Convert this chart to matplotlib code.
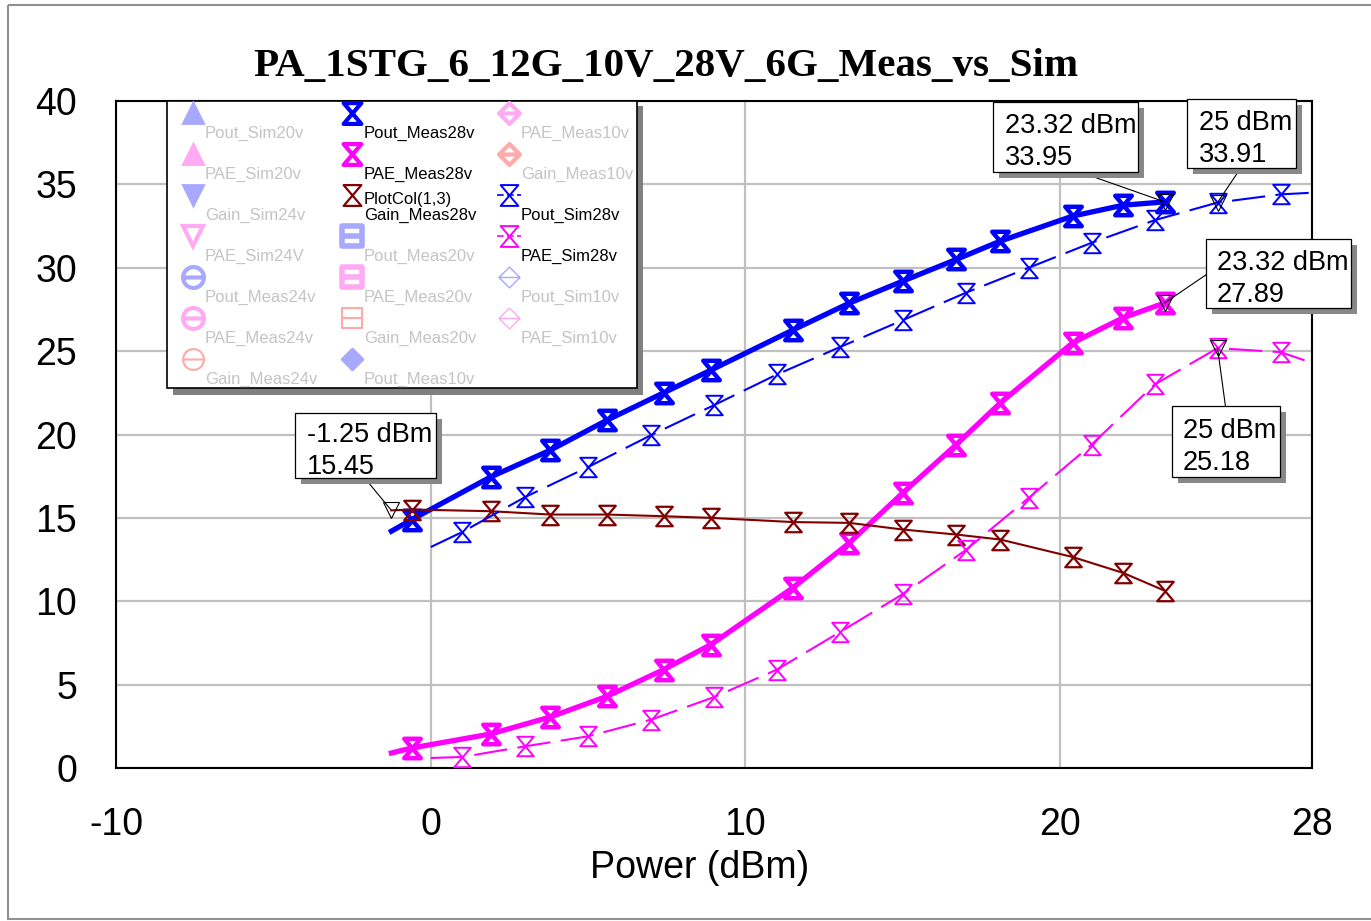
import matplotlib
matplotlib.use("Agg")
import matplotlib.pyplot as plt
import matplotlib.transforms as mtransforms
from matplotlib import font_manager
from matplotlib.patches import Rectangle
from matplotlib.path import Path

plt.rcParams["axes.unicode_minus"] = False

installed = {f.name for f in font_manager.fontManager.ttflist}
SANS = "Liberation Sans"
NARROW = "Liberation Sans Narrow" if "Liberation Sans Narrow" in installed else SANS
SERIF = "Liberation Serif"

TITLE = "PA_1STG_6_12G_10V_28V_6G_Meas_vs_Sim"
X_LABEL = "Power (dBm)"
X_TICKS = [-10, 0, 10, 20, 28]
Y_TICKS = [0, 5, 10, 15, 20, 25, 30, 35, 40]

# measured sweep (first point has no marker)
meas_x = [-1.25, -0.6, 1.9, 3.8, 5.6, 7.4, 8.9, 11.5, 13.3, 15.0, 16.7, 18.1, 20.4, 22.0, 23.32]
pout_meas28 = [14.2, 14.9, 17.45, 19.06, 20.86, 22.5, 23.86, 26.26, 27.88, 29.2, 30.5, 31.6, 33.1, 33.75, 33.95]
pae_meas28 = [0.9, 1.2, 2.04, 3.06, 4.3, 5.9, 7.4, 10.8, 13.5, 16.5, 19.4, 21.9, 25.5, 27.0, 27.89]
gain_meas28 = [15.45, 15.5, 15.4, 15.2, 15.2, 15.1, 15.0, 14.75, 14.7, 14.3, 14.0, 13.7, 12.65, 11.7, 10.63]

# simulated sweep (end points have no marker)
sim_x = [0, 1, 3, 5, 7, 9, 11, 13, 15, 17, 19, 21, 23, 25, 27, 28]
pout_sim28 = [13.25, 14.15, 16.25, 18.05, 19.96, 21.76, 23.6, 25.24, 26.86, 28.5, 30.0, 31.5, 32.85, 33.91, 34.4, 34.5]
pae_sim28 = [0.6, 0.66, 1.3, 1.9, 2.9, 4.25, 5.9, 8.15, 10.43, 13.07, 16.2, 19.4, 23.0, 25.18, 24.94, 24.3]

# marker readouts
mark_x = [-1.25, 23.32, 25, 23.32, 25]
mark_y = [15.45, 33.95, 33.91, 27.89, 25.18]

BLUE, MAGENTA, DRED = "#0000ff", "#ff00ff", "#800000"
LBLUE, LPINK, LRED, LGRAY = "#a8a8ff", "#ffaaf2", "#ffaaaa", "#c4c4c4"

HOURGLASS = Path([(-0.85, 1), (0.85, 1), (-0.85, -1), (0.85, -1), (-0.85, 1)],
                 [Path.MOVETO, Path.LINETO, Path.LINETO, Path.LINETO, Path.CLOSEPOLY])
bar = Path([(-1, 0), (1, 0)], [Path.MOVETO, Path.LINETO])
THETA = Path.make_compound_path(Path.unit_circle(), bar)
SQBAR = Path.make_compound_path(Path.unit_rectangle().transformed(
    mtransforms.Affine2D().translate(-0.5, -0.5).scale(2)), bar)
DIABAR = Path.make_compound_path(Path([(0, 1), (1, 0), (0, -1), (-1, 0), (0, 1)],
                                      [Path.MOVETO] + [Path.LINETO] * 3 + [Path.CLOSEPOLY]), bar)

W, H = 1371, 921
fig = plt.figure(figsize=(W / 100, H / 100), dpi=100)
ax = fig.add_axes([116 / W, 1 - 768 / H, (1312 - 116) / W, (768 - 101) / H])

meas_kw = dict(lw=3.8, marker=HOURGLASS, ms=14, mew=3.2, mfc="none", markevery=slice(1, None), zorder=3)
ax.plot(meas_x, pout_meas28, color=BLUE, **meas_kw)
ax.plot(meas_x, pae_meas28, color=MAGENTA, **meas_kw)
ax.plot(meas_x, gain_meas28, color=DRED, lw=1.5, marker=HOURGLASS, ms=14, mew=1.6,
        mfc="none", markevery=slice(1, None), zorder=3)
sim_kw = dict(lw=1.5, dashes=(16, 5), marker=HOURGLASS, ms=14, mew=1.4, mfc="none",
              markevery=slice(1, -1), zorder=3)
ax.plot(sim_x, pout_sim28, color=BLUE, **sim_kw)
ax.plot(sim_x, pae_sim28, color=MAGENTA, **sim_kw)

ax.plot(mark_x, mark_y, ls="none", marker="v", ms=12, mfc="none", mec="black", mew=0.8, zorder=4)

ax.set_xlim(-10, 28)
ax.set_ylim(0, 40)
ax.set_xticks(X_TICKS)
ax.set_yticks(Y_TICKS)
ax.tick_params(length=0, labelsize=27, pad=28)
for lab in ax.get_xticklabels() + ax.get_yticklabels():
    lab.set_fontfamily(SANS)
ax.grid(color="#c0c0c0", lw=1.6)
ax.set_axisbelow(True)
for sp in ax.spines.values():
    sp.set_linewidth(1.5)
ax.set_xlabel(X_LABEL, fontsize=27, family=SANS, va="center")
ax.xaxis.set_label_coords((700 - 116) / 1196, (768 - 868) / 667)

fig.text(666 / W, 1 - 66 / H, TITLE, ha="center", va="center", fontsize=29.5,
         family=SERIF, fontweight="bold")

# readout boxes: (box x0, y_top, x1, y_bottom) in data units, leader start, text
boxes = [
    ((-4.30, 21.28, 0.16, 17.39), (-2.1, 17.39), "-1.25 dBm\n15.45"),
    ((17.87, 39.93, 22.48, 35.73), (20.64, 35.73), "23.32 dBm\n33.95"),
    ((24.04, 40.10, 27.48, 35.97), (25.73, 35.97), "25 dBm\n33.91"),
    ((24.62, 31.71, 29.24, 27.58), (24.62, 29.56), "23.32 dBm\n27.89"),
    ((23.54, 21.70, 26.97, 17.45), (25.25, 21.70), "25 dBm\n25.18"),
]
shadow_tr = mtransforms.offset_copy(ax.transData, fig, x=6, y=-6, units="dots")
for ((x0, yt, x1, yb), (lx, ly), txt), px, py in zip(boxes, mark_x, mark_y):
    ax.plot([lx, px], [ly, py], color="black", lw=0.8, zorder=4, clip_on=False)
    ax.add_patch(Rectangle((x0, yb), x1 - x0, yt - yb, transform=shadow_tr, fc="#888888",
                           ec="none", zorder=6, clip_on=False))
    ax.add_patch(Rectangle((x0, yb), x1 - x0, yt - yb, fc="white", ec="black", lw=0.9,
                           zorder=7, clip_on=False))
    ax.text(x0 + 0.36, (yt + yb) / 2 - 0.3, txt, ha="left", va="center", fontsize=19.5,
            family=SANS, linespacing=1.3, zorder=8, clip_on=False)

# overlay in pixel coordinates for legend and frame
ov = fig.add_axes([0, 0, 1, 1], zorder=5)
ov.set_xlim(0, W)
ov.set_ylim(H, 0)
ov.axis("off")
ov.add_patch(Rectangle((8, 5), W + 20, H - 7, fc="none", ec="#909090", lw=1.5))
ov.add_patch(Rectangle((173, 106), 470, 289, fc="#808080", ec="none"))
ov.add_patch(Rectangle((167, 101), 470, 287, fc="white", ec="black", lw=1.2))

legend = [
    # col 0
    ("Pout_Sim20v", LBLUE, "^", True, False, 0),
    ("PAE_Sim20v", LPINK, "^", True, False, 0),
    ("Gain_Sim24v", LBLUE, "v", True, False, 0),
    ("PAE_Sim24V", LPINK, "v", False, False, 3),
    ("Pout_Meas24v", LBLUE, THETA, False, False, 3),
    ("PAE_Meas24v", LPINK, THETA, False, False, 3),
    ("Gain_Meas24v", LRED, THETA, False, False, 1.5),
    # col 1
    ("Pout_Meas28v", BLUE, HOURGLASS, False, True, 3),
    ("PAE_Meas28v", MAGENTA, HOURGLASS, False, True, 3),
    ("Gain_Meas28v", DRED, HOURGLASS, False, True, 1.6),
    ("Pout_Meas20v", LBLUE, SQBAR, False, False, 4),
    ("PAE_Meas20v", LPINK, SQBAR, False, False, 4),
    ("Gain_Meas20v", LRED, SQBAR, False, False, 1.5),
    ("Pout_Meas10v", LBLUE, DIABAR, True, False, 0),
    # col 2
    ("PAE_Meas10v", LPINK, DIABAR, False, False, 3),
    ("Gain_Meas10v", LRED, DIABAR, False, False, 3),
    ("Pout_Sim28v", BLUE, HOURGLASS, False, True, 1.4),
    ("PAE_Sim28v", MAGENTA, HOURGLASS, False, True, 1.4),
    ("Pout_Sim10v", LBLUE, DIABAR, False, False, 1),
    ("PAE_Sim10v", LPINK, DIABAR, False, False, 1),
]
col_mx = [193, 352, 509]
for i, (name, col, mk, filled, active, mew) in enumerate(legend):
    c, r = (i // 7, i % 7) if i < 14 else (2, i - 14)
    mx, my = col_mx[c], 113 + 41 * r
    if filled:
        ov.plot([mx], [my], marker=mk, ms=15, color=col, mec=col, mew=2)
    else:
        ov.plot([mx], [my], marker=mk, ms=15, mfc="none", mec=col, mew=mew)
    if name in ("Pout_Sim28v", "PAE_Sim28v"):
        ov.plot([mx - 12, mx + 12], [my, my], color=col, lw=1.2, dashes=(4, 2))
    tc = "black" if active else LGRAY
    ov.text(mx + 12, my + 20, name, ha="left", va="center", fontsize=12, family=NARROW, color=tc)
    if name == "Gain_Meas28v":
        ov.text(mx + 12, my + 4, "PlotCol(1,3)", ha="left", va="center", fontsize=12,
                family=NARROW, color=tc)

fig.savefig("out.png", dpi=100)
